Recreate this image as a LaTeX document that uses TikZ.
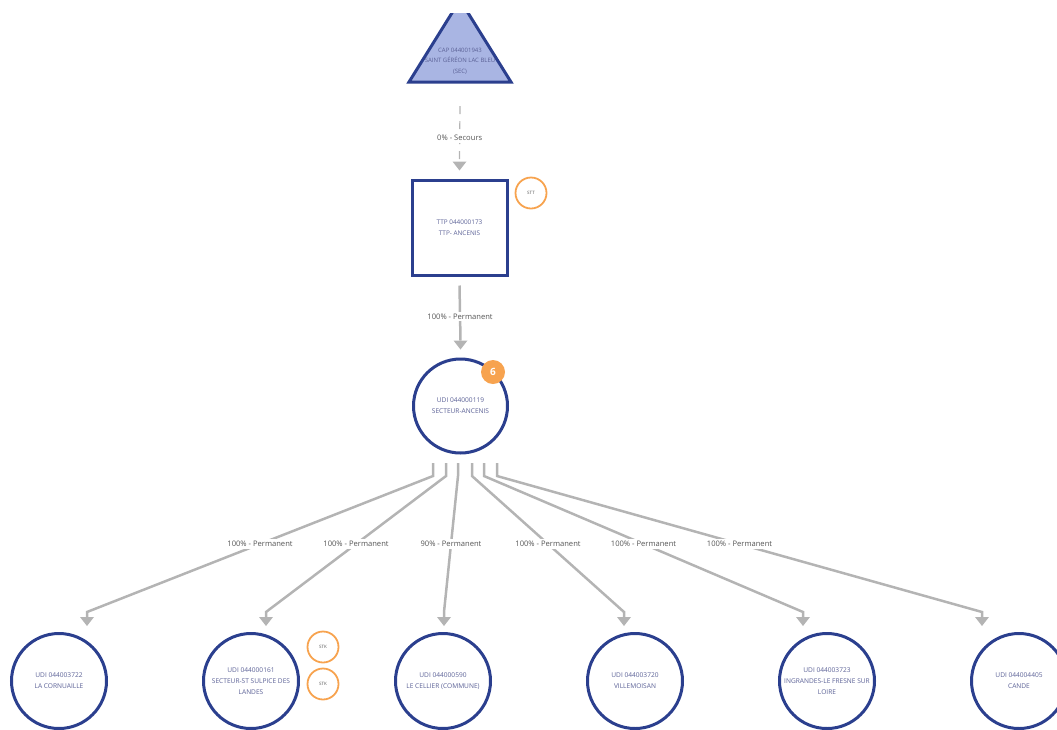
\documentclass[tikz,border=0pt]{standalone}
\usepackage{fontspec}
\setmainfont{Open Sans}
\definecolor{udiblue}{HTML}{2B3F8E}
\definecolor{capfill}{HTML}{A9B5E3}
\definecolor{nodetext}{HTML}{5B6196}
\definecolor{edgegray}{HTML}{B4B4B4}
\definecolor{labeltext}{HTML}{555555}
\definecolor{badge}{HTML}{F7A34F}
\begin{document}
\begin{tikzpicture}[x=1pt,y=1pt]
\tikzstyle{every node}+=[inner sep=0pt]
\tikzstyle{udi}=[circle,draw=udiblue,line width=3,minimum size=95,text=nodetext,align=center,font=\fontsize{6.6}{11}\selectfont]
\tikzstyle{tag}=[circle,draw=badge,line width=1.8,minimum size=31,text=labeltext,font=\fontsize{4.5}{5}\selectfont]
\tikzstyle{lien}=[draw=edgegray,line width=2.5]
\tikzstyle{pct}=[fill=white,text=labeltext,inner sep=2,font=\fontsize{7.6}{9}\selectfont]
\useasboundingbox (0,0) rectangle (1057,-729);
\begin{scope}
\clip (0,-13) rectangle (1057,-729);
\draw [udiblue,fill=capfill,line width=3] (460,0) -- (409,-82) -- (511,-82) -- cycle;
\end{scope}
\node [text=nodetext,align=center,font=\fontsize{6}{10.5}\selectfont] (cap) at (460,-61) {CAP 044001943\\SAINT GÉRÉON LAC BLEU\\(SEC)};
\node [draw=udiblue,line width=3,minimum size=95,text=nodetext,align=center,font=\fontsize{6.4}{11}\selectfont] (ttp) at (459.5,-227.5) {TTP 044000173\\TTP- ANCENIS};
\node [tag] (stt) at (531,-193) {STT};
\node [udi,minimum size=94] (udi) at (460.5,-406) {UDI 044000119\\SECTEUR-ANCENIS};
\node [circle,fill=badge,minimum size=24,text=white,font=\fontsize{10}{11}\selectfont\bfseries] (six) at (493,-372) {6};
\node [udi] (c1) at (59,-681) {UDI 044003722\\LA CORNUAILLE};
\node [udi] (c2) at (251,-681) {UDI 044000161\\SECTEUR-ST SULPICE DES\\LANDES};
\node [tag] (stk1) at (323,-647) {STK};
\node [tag] (stk2) at (323,-684) {STK};
\node [udi] (c3) at (443,-681) {UDI 044000590\\LE CELLIER (COMMUNE)};
\node [udi] (c4) at (635,-681) {UDI 044003720\\VILLEMOISAN};
\node [udi] (c5) at (827,-681) {UDI 044003723\\INGRANDES-LE FRESNE SUR\\LOIRE};
\node [udi] (c6) at (1019,-681) {UDI 044004405\\CANDE};
% secours
\coordinate (capout) at (460,-106);
\coordinate (ttpin) at ([yshift=8]ttp.north);
\draw [edgegray,line width=1.2,dash pattern=on 8 off 7] (capout) -- ([yshift=9]ttpin) node [pct,pos=0.58] {0\% - Secours};
\fill [edgegray] (ttpin) -- ++(-7,9) -- ++(14,0) -- cycle;
% ttp -> udi
\coordinate (ttpout) at ([yshift=-9]ttp.south);
\coordinate (udiin) at ([yshift=8]udi.north);
\draw [lien] (ttpout) -- ([yshift=9]udiin) node [pct,pos=0.56] {100\% - Permanent};
\fill [edgegray] (udiin) -- ++(-7,9) -- ++(14,0) -- cycle;
% udi -> secteurs
\coordinate (o1) at (433,-463);
\coordinate (o2) at (446,-463);
\coordinate (o3) at (458,-463);
\coordinate (o4) at (472,-463);
\coordinate (o5) at (484,-463);
\coordinate (o6) at (497,-463);
\coordinate (i1) at (87,-626);
\coordinate (i2) at (266,-626);
\coordinate (i3) at (444,-626);
\coordinate (i4) at (624,-626);
\coordinate (i5) at (803,-626);
\coordinate (i6) at (982,-626);
\draw [lien] (o1) -- ++(0,-13) -- node [pct] {100\% - Permanent} ([yshift=14]i1) -- ([yshift=9]i1);
\fill [edgegray] (i1) -- ++(-7,9) -- ++(14,0) -- cycle;
\draw [lien] (o2) -- ++(0,-13) -- node [pct] {100\% - Permanent} ([yshift=14]i2) -- ([yshift=9]i2);
\fill [edgegray] (i2) -- ++(-7,9) -- ++(14,0) -- cycle;
\draw [lien] (o3) -- ++(0,-13) -- node [pct] {90\% - Permanent} ([yshift=14]i3) -- ([yshift=9]i3);
\fill [edgegray] (i3) -- ++(-7,9) -- ++(14,0) -- cycle;
\draw [lien] (o4) -- ++(0,-13) -- node [pct] {100\% - Permanent} ([yshift=14]i4) -- ([yshift=9]i4);
\fill [edgegray] (i4) -- ++(-7,9) -- ++(14,0) -- cycle;
\draw [lien] (o5) -- ++(0,-13) -- node [pct] {100\% - Permanent} ([yshift=14]i5) -- ([yshift=9]i5);
\fill [edgegray] (i5) -- ++(-7,9) -- ++(14,0) -- cycle;
\draw [lien] (o6) -- ++(0,-13) -- node [pct] {100\% - Permanent} ([yshift=14]i6) -- ([yshift=9]i6);
\fill [edgegray] (i6) -- ++(-7,9) -- ++(14,0) -- cycle;
\end{tikzpicture}
\end{document}
